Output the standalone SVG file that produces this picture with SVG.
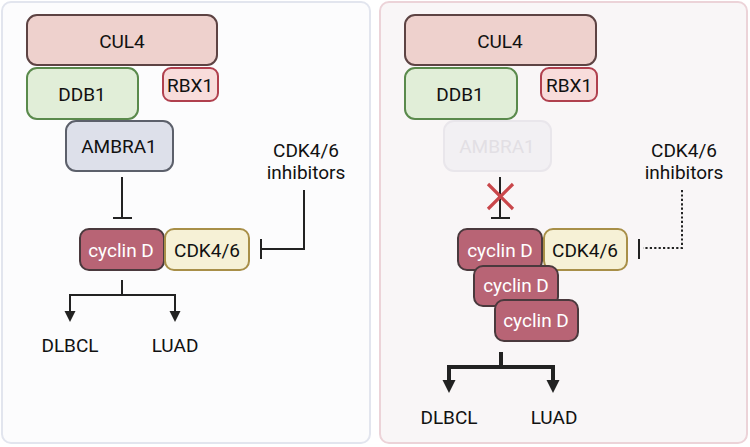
<svg xmlns="http://www.w3.org/2000/svg" width="750" height="447" viewBox="0 0 750 447">
<style>
text{font-family:Roboto,"Liberation Sans",sans-serif;font-size:19px;text-anchor:middle;fill:#111}
.box{stroke-width:2}
.cul{fill:#eed1cd;stroke:#5d4343}
.ddb{fill:#e1eed8;stroke:#5a8a4c}
.rbx{fill:#f8dcdb;stroke:#b0404e}
.amb{fill:#dde0ea;stroke:#5c606b}
.ambf{fill:#f2f0f3;stroke:#e9e6eb}
.cyc{fill:#b86475;stroke:#4a393d}
.cdk{fill:#f6f1d6;stroke:#a88f48}
.wt{fill:#fff}
.ln{fill:none;stroke:#222;stroke-width:2}
.lnb{fill:none;stroke:#222;stroke-width:4}
.dot{fill:none;stroke:#222;stroke-width:2;stroke-dasharray:2.2 2.2}
.ah{fill:#222}
</style>
<g id="panel-left"><rect x="2" y="2" width="368" height="441" rx="9" fill="#fcfcfd" stroke="#e2e5ee" stroke-width="2"/></g>
<g id="panel-right"><rect x="380" y="2" width="367" height="441" rx="9" fill="#f9f6f7" stroke="#ecd3d8" stroke-width="2"/></g>

<g id="connectors">
<path class="ln" d="M122,177 V218 M113,218 H132"/>
<path class="ln" d="M304,190 V249 H261 M261,239 V259"/>
<path class="ln" d="M122,280 V295 M69,295 H176 M70,294 V313 M175,294 V313"/>
<polygon class="ah" points="64.5,311 75.5,311 70,322"/>
<polygon class="ah" points="169.5,311 180.5,311 175,322"/>
<path class="ln" d="M500,177 V218 M491,218 H510"/>
<path d="M488,184 L513,209 M513,184 L488,209" stroke="#c9464a" stroke-width="3.2" fill="none"/>
<path class="dot" d="M682,190 V248 H643"/>
<path class="ln" d="M639,239 V259"/>
<path class="lnb" d="M501,352 V367 M447,367 H555 M449,365 V382 M553,365 V382"/>
<polygon class="ah" points="442.5,380 455.5,380 449,393"/>
<polygon class="ah" points="546.5,380 559.5,380 553,393"/>
</g>

<g id="cul4-l"><rect class="box cul" x="27" y="15" width="190" height="50" rx="10"/><text x="122" y="48">CUL4</text></g>
<g id="ddb1-l"><rect class="box ddb" x="27" y="68" width="111" height="51" rx="10"/><text x="82" y="101">DDB1</text></g>
<g id="rbx1-l"><rect class="box rbx" x="163" y="68" width="55" height="33" rx="8"/><text x="190" y="92">RBX1</text></g>
<g id="ambra1-l"><rect class="box amb" x="66" y="121" width="107" height="50" rx="10"/><text x="119" y="153">AMBRA1</text></g>
<g id="inhib-l"><text x="306" y="157">CDK4/6</text><text x="306" y="179">inhibitors</text></g>
<g id="cyclinD-l"><rect class="box cyc" x="80" y="229" width="84" height="41" rx="9"/><text class="wt" x="121" y="257">cyclin D</text></g>
<g id="cdk46-l"><rect class="box cdk" x="165" y="229" width="84" height="41" rx="9"/><text x="207" y="257">CDK4/6</text></g>
<g id="dlbcl-l"><text x="70" y="352">DLBCL</text></g>
<g id="luad-l"><text x="175" y="352">LUAD</text></g>

<g id="cul4-r"><rect class="box cul" x="405" y="15" width="191" height="50" rx="10"/><text x="500" y="48">CUL4</text></g>
<g id="ddb1-r"><rect class="box ddb" x="405" y="68" width="112" height="51" rx="10"/><text x="460" y="101">DDB1</text></g>
<g id="rbx1-r"><rect class="box rbx" x="541" y="68" width="56" height="33" rx="8"/><text x="569" y="92">RBX1</text></g>
<g id="ambra1-r"><rect class="box ambf" x="444" y="121" width="107" height="50" rx="10"/><text x="497" y="153" style="fill:#e2dfe4">AMBRA1</text></g>
<g id="inhib-r"><text x="684" y="157">CDK4/6</text><text x="684" y="179">inhibitors</text></g>
<g id="cyclinD-r1"><rect class="box cyc" x="458" y="229" width="84" height="41" rx="9"/><text class="wt" x="500" y="257">cyclin D</text></g>
<g id="cdk46-r"><rect class="box cdk" x="544" y="229" width="83" height="41" rx="9"/><text x="585" y="257">CDK4/6</text></g>
<g id="cyclinD-r2"><rect class="box cyc" x="474" y="266" width="84" height="40" rx="9"/><text class="wt" x="516" y="292">cyclin D</text></g>
<g id="cyclinD-r3"><rect class="box cyc" x="495" y="300" width="83" height="41" rx="9"/><text class="wt" x="536" y="327">cyclin D</text></g>
<g id="dlbcl-r"><text x="449" y="424">DLBCL</text></g>
<g id="luad-r"><text x="554" y="424">LUAD</text></g>
</svg>
